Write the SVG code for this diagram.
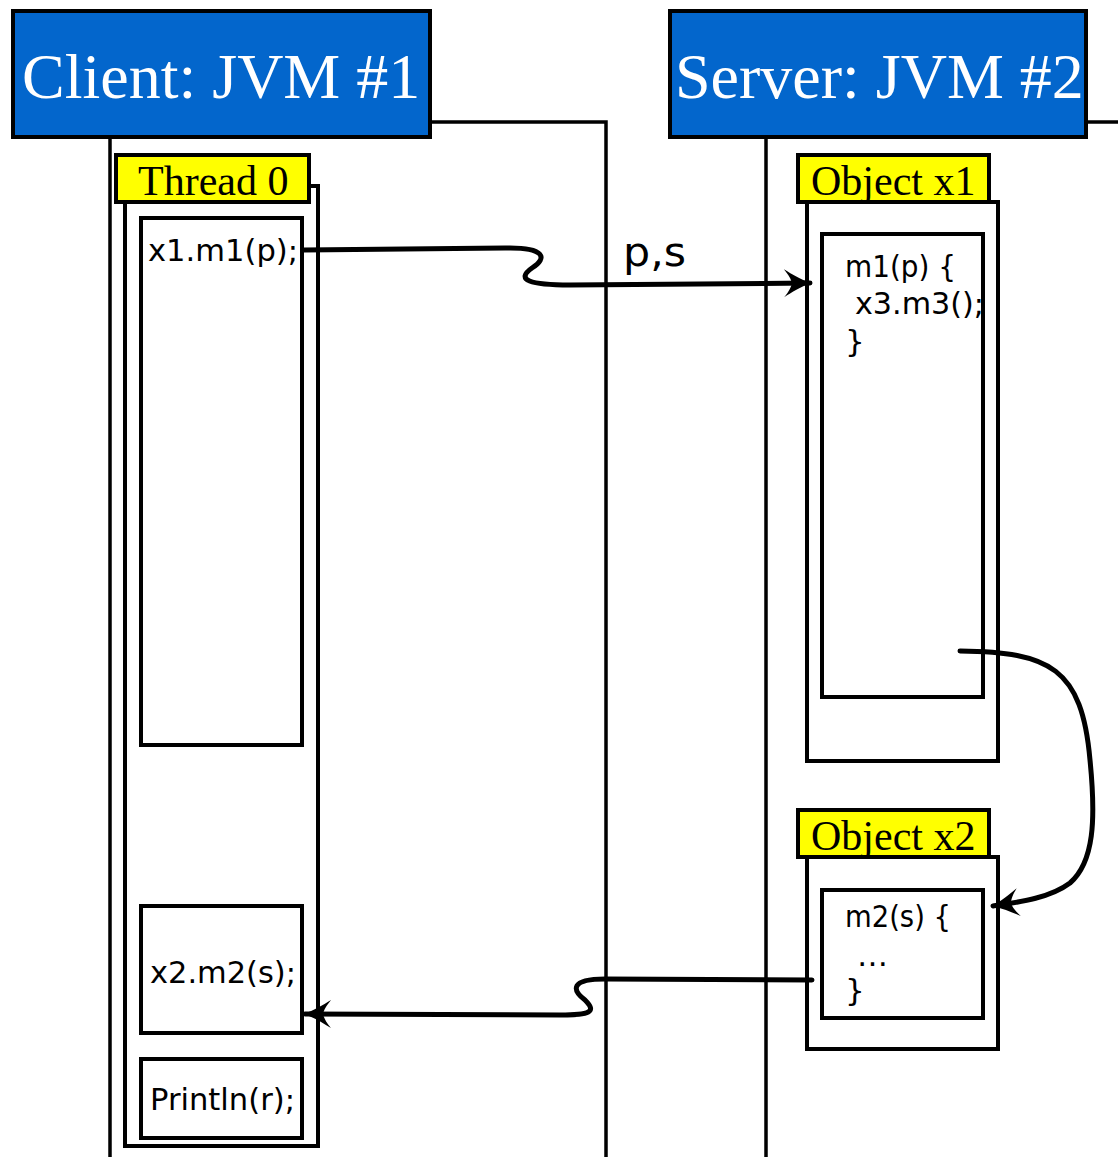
<svg xmlns="http://www.w3.org/2000/svg" width="1118" height="1157" viewBox="0 0 1118 1157">
  <style>
    .frame { fill: none; stroke: #000; stroke-width: 3.5; }
    .box { fill: #fff; stroke: #000; stroke-width: 4; }
    .head { fill: #0366cc; stroke: #000; stroke-width: 4; }
    .tag { fill: #ffff00; stroke: #000; stroke-width: 4; }
    .headtxt { font-family: "Liberation Serif", serif; font-size: 64px; fill: #fff; }
    .tagtxt { font-family: "Liberation Serif", serif; font-size: 42px; fill: #000; }
    .code { font-family: "DejaVu Sans", sans-serif; font-size: 31px; fill: #000; }
    .wire { fill: none; stroke: #000; stroke-width: 5; stroke-linecap: round; }
  </style>
  <defs>
    <marker id="arrow" viewBox="-30 -16 32 32" refX="0" refY="0" markerWidth="32" markerHeight="32" markerUnits="userSpaceOnUse" orient="auto">
      <path d="M1,0 C-10,-4 -18,-9 -26,-14 C-21,-8 -19,-4 -18,0 C-19,4 -21,8 -26,14 C-18,9 -10,4 1,0 Z" fill="#000"/>
    </marker>
  </defs>

  <rect width="1118" height="1157" fill="#fff"/>

  <!-- JVM containers -->
  <g id="client-jvm">
    <path class="frame" d="M110,1160 V122 H606 V1160"/>
    <rect class="head" x="13" y="11" width="417" height="126"/>
    <text class="headtxt" x="22" y="98">Client: JVM #1</text>
  </g>
  <g id="server-jvm">
    <path class="frame" d="M766,1160 V122 H1120"/>
    <rect class="head" x="670" y="11" width="416" height="126"/>
    <text class="headtxt" x="675" y="98">Server: JVM #2</text>
  </g>

  <!-- Client thread -->
  <g id="thread0">
    <rect class="box" x="125" y="186" width="193" height="960"/>
    <rect class="tag" x="116" y="155" width="193" height="47"/>
    <text class="tagtxt" x="138" y="195">Thread 0</text>
  </g>
  <g id="call-m1">
    <rect class="box" x="141" y="218" width="161" height="527"/>
    <text class="code" x="148" y="261" textLength="150" lengthAdjust="spacingAndGlyphs">x1.m1(p);</text>
  </g>
  <g id="call-m2">
    <rect class="box" x="141" y="906" width="161" height="127"/>
    <text class="code" x="150" y="983" textLength="146" lengthAdjust="spacingAndGlyphs">x2.m2(s);</text>
  </g>
  <g id="println">
    <rect class="box" x="141" y="1059" width="161" height="79"/>
    <text class="code" x="150" y="1110" textLength="145" lengthAdjust="spacingAndGlyphs">Println(r);</text>
  </g>

  <!-- Server objects -->
  <g id="object-x1">
    <rect class="box" x="807" y="202" width="191" height="559"/>
    <rect class="tag" x="798" y="155" width="191" height="47"/>
    <text class="tagtxt" x="811" y="195">Object x1</text>
    <rect class="box" x="822" y="234" width="161" height="463"/>
    <text class="code" x="845" y="277" textLength="111" lengthAdjust="spacingAndGlyphs">m1(p) {</text>
    <text class="code" x="855" y="314" textLength="129" lengthAdjust="spacingAndGlyphs">x3.m3();</text>
    <text class="code" x="845" y="352">}</text>
  </g>
  <g id="object-x2">
    <rect class="box" x="807" y="857" width="191" height="192"/>
    <rect class="tag" x="798" y="810" width="191" height="47"/>
    <text class="tagtxt" x="811" y="850">Object x2</text>
    <rect class="box" x="822" y="890" width="161" height="128"/>
    <text class="code" x="845" y="927" textLength="106" lengthAdjust="spacingAndGlyphs">m2(s) {</text>
    <text class="code" x="857" y="966">…</text>
    <text class="code" x="845" y="1001">}</text>
  </g>

  <!-- Connectors -->
  <g id="connectors">
    <path class="wire" marker-end="url(#arrow)" d="M304,250 L505,248 C545,247 548,258 532,268 C515,280 530,285 570,285 L810,283"/>
    <text x="623" y="266" font-family="DejaVu Sans, sans-serif" font-size="41" textLength="63" lengthAdjust="spacingAndGlyphs">p,s</text>
    <path class="wire" marker-end="url(#arrow)" d="M960,651 C1050,652 1082,668 1090,760 C1096,820 1094,862 1070,883 C1050,898 1020,902 993,906"/>
    <path class="wire" marker-end="url(#arrow)" d="M812,980 L605,979 C570,979 572,990 585,1000 C597,1012 590,1015 560,1015 L305,1014"/>
  </g>
</svg>
